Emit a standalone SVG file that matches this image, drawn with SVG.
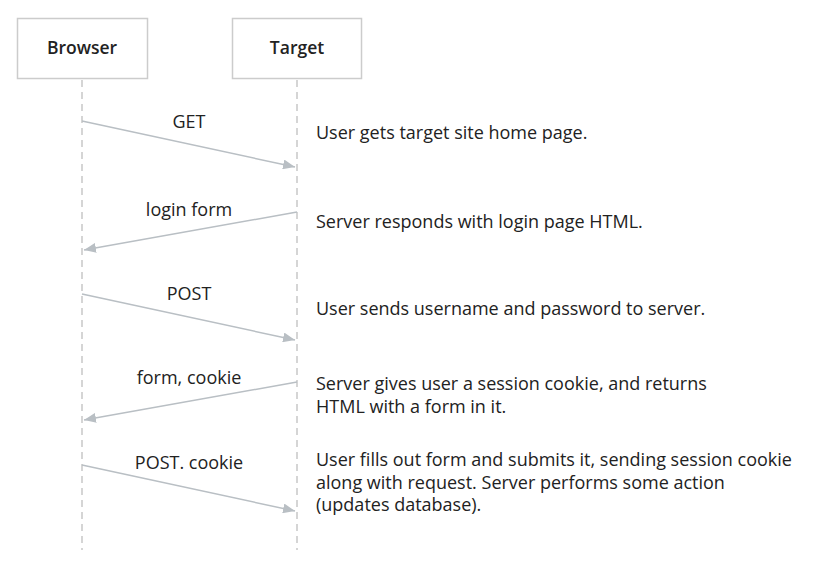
<svg xmlns="http://www.w3.org/2000/svg" width="822" height="573" viewBox="0 0 822 573">
<defs>
<style>
.box{fill:#fff;stroke:#cccccc;stroke-width:1.5}
.life{stroke:#c8c8c8;stroke-width:1.5;stroke-dasharray:7 5;fill:none}
.msg{stroke:#b9bfc4;stroke-width:1.5;fill:none;marker-end:url(#ah)}
text{font-family:"Open Sans","Noto Sans",sans-serif;font-size:18px;fill:#222}
.title{font-weight:600;text-anchor:middle;font-size:17.5px}
.lbl{text-anchor:middle}
</style>
<marker id="ah" viewBox="0 0 12 10" refX="12" refY="5" markerWidth="12" markerHeight="10" markerUnits="userSpaceOnUse" orient="auto">
<path d="M0,0 L12,5 L0,10 z" fill="#b9bfc4"/>
</marker>
</defs>
<g id="browser">
<rect class="box" x="17.5" y="18.5" width="130" height="60"/>
<text class="title" x="82" y="54">Browser</text>
</g>
<g id="target">
<rect class="box" x="232.5" y="18.5" width="129" height="60"/>
<text class="title" x="297" y="54">Target</text>
</g>
<g id="connectors">
<line class="life" x1="82" y1="80" x2="82" y2="550"/>
<line class="life" x1="297" y1="80" x2="297" y2="550"/>
<line class="msg" x1="82" y1="121" x2="295" y2="167"/>
<line class="msg" x1="297" y1="212" x2="84" y2="250"/>
<line class="msg" x1="82" y1="294" x2="295" y2="340"/>
<line class="msg" x1="297" y1="382" x2="84" y2="420"/>
<line class="msg" x1="82" y1="465" x2="295" y2="511"/>
</g>
<g id="labels">
<text class="lbl" x="189" y="128">GET</text>
<text class="lbl" x="189" y="216">login form</text>
<text class="lbl" x="189" y="300">POST</text>
<text class="lbl" x="189" y="384">form, cookie</text>
<text class="lbl" x="189" y="469">POST. cookie</text>
</g>
<g id="notes">
<text x="316" y="139">User gets target site home page.</text>
<text x="316" y="228">Server responds with login page HTML.</text>
<text x="316" y="315">User sends username and password to server.</text>
<text x="316" y="390">Server gives user a session cookie, and returns</text>
<text x="316" y="413">HTML with a form in it.</text>
<text x="316" y="466">User fills out form and submits it, sending session cookie</text>
<text x="316" y="489">along with request. Server performs some action</text>
<text x="316" y="511">(updates database).</text>
</g>
</svg>
